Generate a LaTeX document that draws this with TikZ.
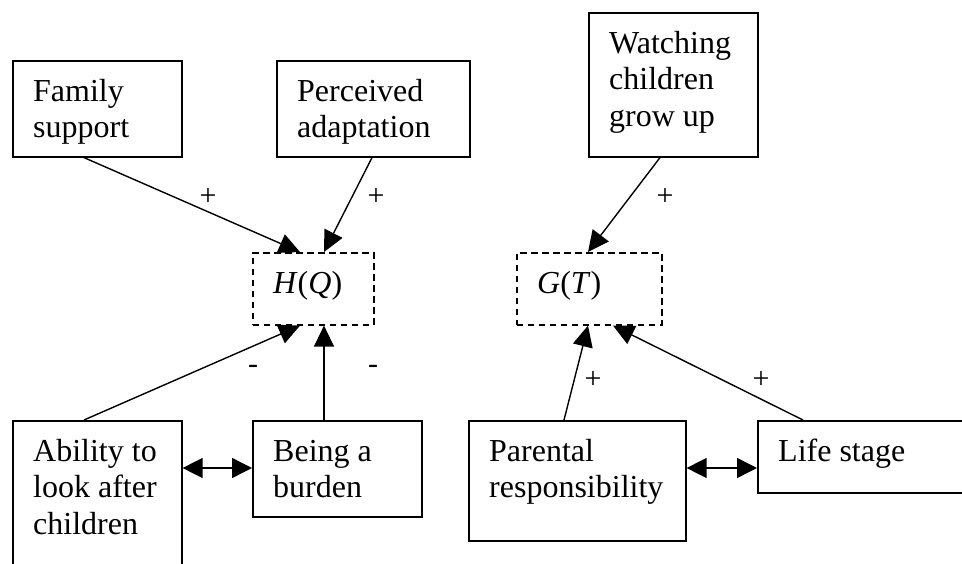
\documentclass[tikz,border=0pt]{standalone}
\usepackage{fontspec}
\setmainfont{Liberation Serif}
\usetikzlibrary{arrows.meta,calc}
\tikzset{
  box/.style={draw, line width=1.6pt, inner sep=0pt, anchor=north west},
  dbox/.style={box, dash pattern=on 6.5pt off 4.5pt},
  txt/.style={inner sep=0pt, anchor=north west, align=left, font=\fontsize{32}{36.8}\selectfont},
  lbl/.style={inner sep=0pt, font=\fontsize{30}{34}\selectfont},
  arr/.style={line width=1.4pt, -{Triangle[length=21pt,width=20pt]}},
  darr/.style={line width=1.4pt, {Triangle[length=20pt,width=20pt]}-{Triangle[length=20pt,width=20pt]}},
}
\begin{document}
\begin{tikzpicture}[x=1pt,y=-1pt]
\useasboundingbox (0,0) rectangle (962,563);
\clip (0,0) rectangle (962,563);
% boxes
\node[box, minimum width=169pt, minimum height=96pt] (fam) at (12,60) {};
\node[box, minimum width=193pt, minimum height=96pt] (perc) at (276,60) {};
\node[box, minimum width=169pt, minimum height=144pt] (watch) at (588,12) {};
\node[dbox, minimum width=121pt, minimum height=72pt] (hq) at (252,252) {};
\node[dbox, minimum width=145pt, minimum height=72pt] (gt) at (516,252) {};
\node[box, minimum width=169pt, minimum height=180pt] (abil) at (12,420) {};
\node[box, minimum width=169pt, minimum height=96pt] (burd) at (252,420) {};
\node[box, minimum width=217pt, minimum height=120pt] (par) at (468,420) {};
\node[box, minimum width=243pt, minimum height=72pt] (life) at (757,420) {};
% texts
\node[txt] (famt) at ([xshift=21pt,yshift=-15.2pt]fam.north west) {\strut Family\\support};
\node[txt] (perct) at ([xshift=21pt,yshift=-15.2pt]perc.north west) {\strut Perceived\\adaptation};
\node[txt] (watcht) at ([xshift=21pt,yshift=-15.2pt]watch.north west) {\strut Watching\\children\\grow up};
\node[txt] (hqt) at ([xshift=21pt,yshift=-15.2pt]hq.north west) {\strut\textit{H}(\textit{Q})};
\node[txt] (gtt) at ([xshift=21pt,yshift=-15.2pt]gt.north west) {\strut\textit{G}(\textit{T})};
\node[txt] (abilt) at ([xshift=21pt,yshift=-15.2pt]abil.north west) {\strut Ability to\\look after\\children};
\node[txt] (burdt) at ([xshift=21pt,yshift=-15.2pt]burd.north west) {\strut Being a\\burden};
\node[txt] (part) at ([xshift=21pt,yshift=-15.2pt]par.north west) {\strut Parental\\responsibility};
\node[txt] (lifet) at ([xshift=21pt,yshift=-15.2pt]life.north west) {\strut Life stage};
% arrows
\draw[arr] ([xshift=72pt]fam.south west) -- ([xshift=48pt]hq.north west);
\draw[arr] ([xshift=96pt]perc.south west) -- ([xshift=72pt]hq.north west);
\draw[arr] ([xshift=72pt]watch.south west) -- ([xshift=72pt]gt.north west);
\draw[arr] ([xshift=72pt]abil.north west) -- ([xshift=48pt]hq.south west);
\draw[arr] ([xshift=72pt]burd.north west) -- ([xshift=72pt]hq.south west);
\draw[arr] ([xshift=96pt]par.north west) -- ([xshift=72pt]gt.south west);
\draw[arr] ([xshift=46pt]life.north west) -- ([xshift=97pt]gt.south west);
\draw[darr] ([yshift=-48pt]abil.north east) -- ([yshift=-48pt]burd.north west);
\draw[darr] ([yshift=-48pt]par.north east) -- ([yshift=-48pt]life.north west);
% labels
\node[lbl] (l1) at (208,197) {+};
\node[lbl] (l2) at (376,197) {+};
\node[lbl] (l3) at (665,197) {+};
\node[lbl] (l4) at (593,380) {+};
\node[lbl] (l5) at (761,380) {+};
\node[lbl, anchor=base] (l6) at (253,373) {-};
\node[lbl, anchor=base] (l7) at (373,373) {-};
\end{tikzpicture}
\end{document}
